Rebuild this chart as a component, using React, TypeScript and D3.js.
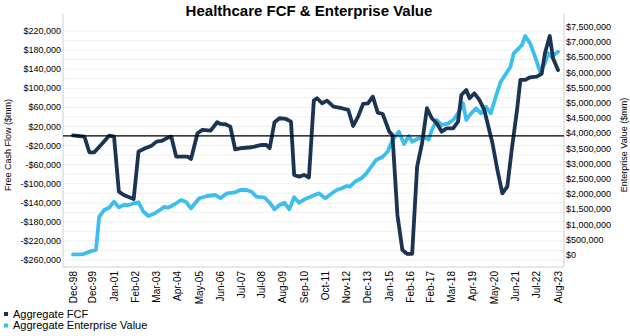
import React from "react";
import * as d3 from "d3";

const fcfDates = ["1998-12","1999-07","1999-10","2000-01","2000-06","2000-10","2001-01","2001-04","2001-07","2002-01","2002-04","2002-08","2002-12","2003-03","2003-06","2003-10","2003-12","2004-03","2004-10","2004-12","2005-04","2005-07","2005-12","2006-04","2006-06","2006-09","2006-12","2007-03","2007-06","2008-01","2008-07","2008-10","2008-12","2009-03","2009-06","2009-10","2010-01","2010-03","2010-06","2010-09","2010-12","2011-03","2011-05","2011-08","2011-11","2012-03","2012-08","2012-12","2013-03","2013-06","2013-09","2013-12","2014-03","2014-06","2014-09","2015-01","2015-03","2015-06","2015-09","2015-12","2016-03","2016-06","2016-09","2016-12","2017-03","2017-06","2017-09","2017-12","2018-04","2018-07","2018-09","2018-12","2019-02","2019-05","2019-08","2019-11","2020-04","2020-07","2020-10","2021-01","2021-04","2021-07","2021-09","2021-12","2022-03","2022-07","2022-10","2022-12","2023-03","2023-05","2023-08"];
const fcfValues = [1000,-1500,-34200,-34200,-15300,600,-1500,-116700,-123700,-132000,-32900,-25800,-20300,-11900,-10500,-3600,-1500,-43400,-43400,-48200,5700,12600,11100,28700,25200,24500,19500,-27900,-25800,-23700,-18900,-18900,-25800,28700,37100,35600,30000,-81700,-85300,-81700,-87000,74000,79000,68500,74000,61400,58100,54500,21000,40500,67100,68500,82400,48800,46100,9000,2100,-165600,-239000,-247300,-247300,-64300,-15300,58100,37100,26600,9000,16100,16100,30000,85900,96400,79000,89500,75500,54500,-15300,-71300,-120100,-106300,-22400,54500,117400,117400,123000,124300,130000,173300,209600,162900,138300];

const evDates = ["1998-12","1999-06","1999-10","2000-02","2000-04","2000-07","2000-10","2001-01","2001-04","2001-07","2001-10","2002-01","2002-04","2002-07","2002-10","2003-02","2003-05","2003-08","2003-10","2004-02","2004-06","2004-09","2004-12","2005-05","2005-10","2006-03","2006-06","2006-10","2007-03","2007-06","2007-10","2008-01","2008-04","2008-09","2008-12","2009-03","2009-06","2009-09","2009-12","2010-03","2010-06","2010-09","2011-01","2011-06","2011-10","2012-02","2012-05","2012-08","2012-11","2013-01","2013-04","2013-08","2013-11","2014-02","2014-05","2014-09","2014-12","2015-03","2015-07","2015-10","2016-01","2016-03","2016-07","2016-10","2017-01","2017-03","2017-06","2017-09","2018-01","2018-04","2018-07","2018-10","2018-12","2019-03","2019-06","2019-09","2019-12","2020-03","2020-06","2020-09","2021-01","2021-03","2021-05","2021-08","2021-10","2021-12","2022-03","2022-06","2022-09","2022-12","2023-02","2023-04","2023-08"];
const evValues = [20000,23000,108000,164000,1258000,1478000,1554000,1751000,1567000,1643000,1643000,1698000,1731000,1422000,1281000,1370000,1478000,1587000,1554000,1666000,1807000,1741000,1534000,1863000,1938000,1971000,1863000,2027000,2060000,2135000,2135000,2079000,1915000,1882000,1718000,1501000,1643000,1718000,1501000,1895000,1718000,1820000,1915000,2027000,1863000,2027000,2135000,2191000,2267000,2244000,2408000,2520000,2684000,2901000,3121000,3229000,3393000,3778000,4051000,3646000,3909000,3722000,3834000,3867000,3794000,4106000,4435000,4271000,4326000,4435000,4655000,4984000,4435000,4655000,4819000,4655000,4872000,4655000,5200000,5693000,6022000,6186000,6626000,6790000,6899000,7194000,6955000,6514000,6022000,6298000,6626000,6514000,6679000];

const xTickLabels = ["Dec-98","Dec-99","Jan-01","Feb-02","Mar-03","Apr-04","May-05","Jun-06","Jul-07","Jul-08","Aug-09","Sep-10","Oct-11","Nov-12","Dec-13","Jan-15","Feb-16","Feb-17","Mar-18","Apr-19","May-20","Jun-21","Jul-22","Aug-23"];
const leftTicks = [220000,180000,140000,100000,60000,20000,-20000,-60000,-100000,-140000,-180000,-220000,-260000];
const rightTicks = [0,500000,1000000,1500000,2000000,2500000,3000000,3500000,4000000,4500000,5000000,5500000,6000000,6500000,7000000,7500000];
const seriesNames = ["Aggregate FCF", "Aggregate Enterprise Value"];
const title = "Healthcare FCF & Enterprise Value";

const FCF_COLOR = "#1b3452";
const EV_COLOR = "#3cbff0";
const FONT = "'Liberation Sans', Arial, sans-serif";

export default function App() {
  const W = 630, H = 336;
  const plotL = 63, plotR = 564, plotT = 14, plotB = 267;
  const parseM = d3.timeParse("%Y-%m");
  const parseTick = d3.timeParse("%b-%y");
  const x = d3.scaleTime().domain([new Date(1998, 11, 1), new Date(2023, 7, 1)]).range([73, 558]);
  const yL = d3.scaleLinear().domain([-260000, 220000]).range([260, 31]);
  const yR = d3.scaleLinear().domain([0, 7500000]).range([255, 26.7]);
  const fmt = d3.format(",");
  const fmtL = (v: number) => (v < 0 ? "-$" : "$") + fmt(Math.abs(v));
  const fmtR = (v: number) => "$" + fmt(v);

  const fcf = fcfDates.map((d, i) => ({ d: parseM(d)!, v: fcfValues[i] }));
  const ev = evDates.map((d, i) => ({ d: parseM(d)!, v: evValues[i] }));
  const lineL = d3.line<{ d: Date; v: number }>().x(p => x(p.d)).y(p => yL(p.v));
  const lineR = d3.line<{ d: Date; v: number }>().x(p => x(p.d)).y(p => yR(p.v));

  const grid = d3.range(-260000, 220001, 20000);

  return (
    <svg width={W} height={H} style={{ position: "absolute", left: 0, top: 0, background: "#fff" }} fontFamily={FONT}>
      <text x={309} y={15.5} textAnchor="middle" fontSize={15} fontWeight="bold" fill="#000">{title}</text>
      {grid.map(g => (
        <line key={g} x1={plotL} x2={plotR} y1={yL(g)} y2={yL(g)} stroke="#ececec" strokeWidth={0.8} />
      ))}
      <line x1={plotL} x2={plotL} y1={plotT} y2={plotB} stroke="#d0d0d0" />
      <line x1={plotR} x2={plotR} y1={plotT} y2={plotB} stroke="#d0d0d0" />
      <line x1={plotL} x2={plotR} y1={plotB} y2={plotB} stroke="#d0d0d0" />
      {leftTicks.map(t => (
        <text key={t} x={61} y={yL(t)} dy="0.35em" textAnchor="end" fontSize={9} fill="#000">{fmtL(t)}</text>
      ))}
      {rightTicks.map(t => (
        <text key={t} x={566} y={yR(t)} dy="0.35em" textAnchor="start" fontSize={9} fill="#000">{fmtR(t)}</text>
      ))}
      {xTickLabels.map(l => {
        const px = x(parseTick(l)!);
        return (
          <text key={l} transform={`translate(${px},271) rotate(-90)`} dy="0.35em" textAnchor="end" fontSize={10} fill="#000">{l}</text>
        );
      })}
      <text transform={`translate(8,145) rotate(-90)`} dy="0.35em" textAnchor="middle" fontSize={9} fill="#000">Free Cash Flow ($mm)</text>
      <text transform={`translate(624,145) rotate(-90)`} dy="0.35em" textAnchor="middle" fontSize={9} fill="#000">Enterprise Value ($mm)</text>
      <path d={lineR(ev)!} fill="none" stroke={EV_COLOR} strokeWidth={3.8} strokeLinejoin="round" strokeLinecap="round" />
      <path d={lineL(fcf)!} fill="none" stroke={FCF_COLOR} strokeWidth={3.8} strokeLinejoin="round" strokeLinecap="round" />
      <line x1={plotL} x2={plotR} y1={yL(0)} y2={yL(0)} stroke="#000" strokeWidth={1.2} />
      {seriesNames.map((n, i) => (
        <g key={n}>
          <rect x={4} y={312 + i * 11.5} width={4} height={4} fill={i === 0 ? FCF_COLOR : EV_COLOR} />
          <text x={13} y={314 + i * 11.5} dy="0.35em" fontSize={11} fill="#000">{n}</text>
        </g>
      ))}
    </svg>
  );
}
